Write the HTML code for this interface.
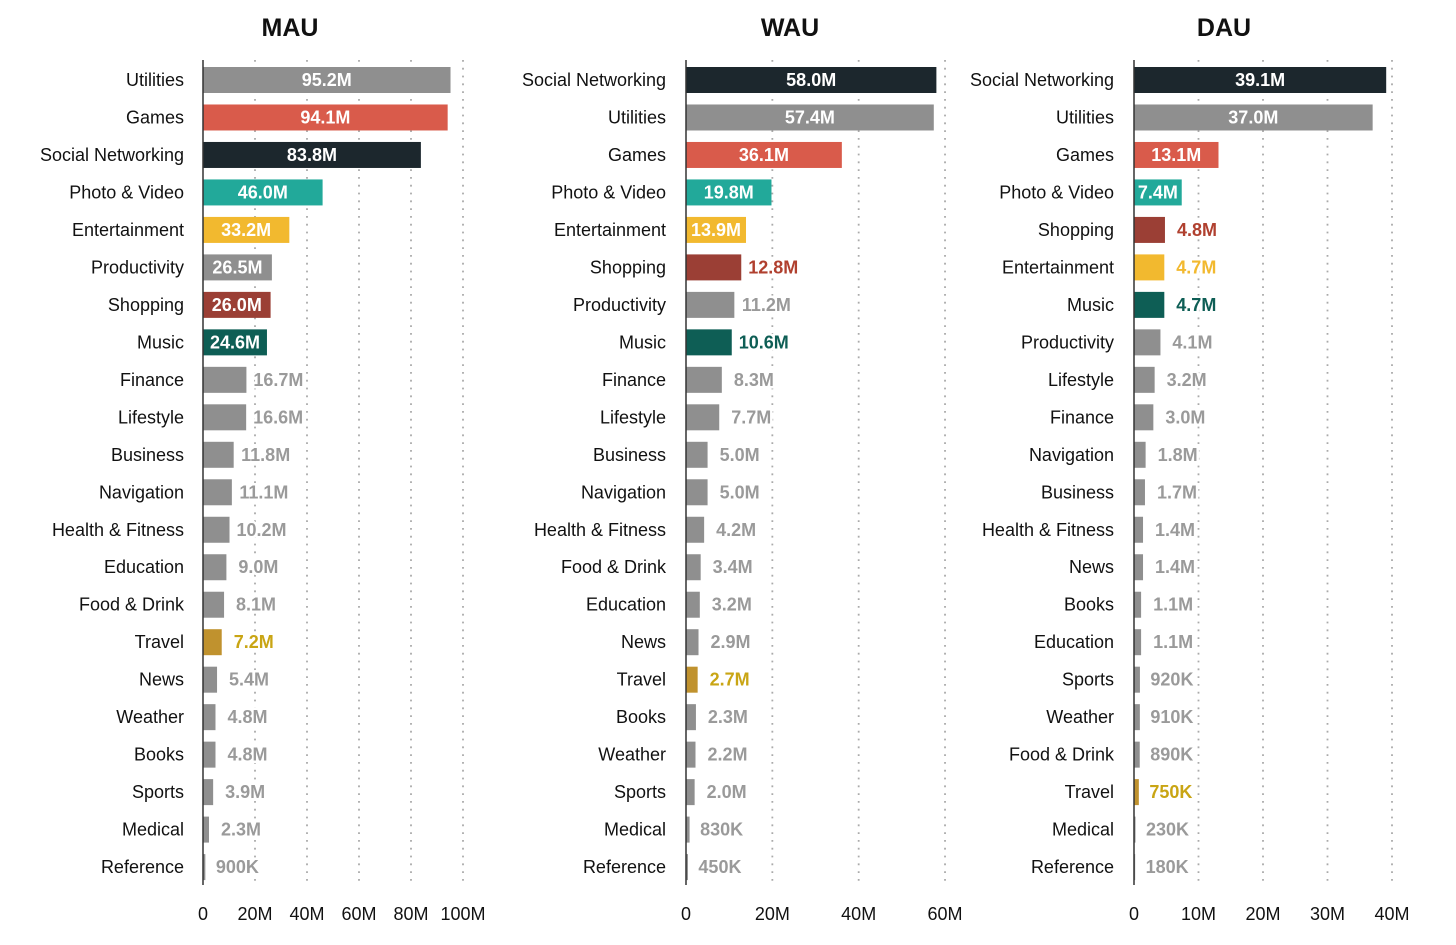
<!DOCTYPE html>
<html><head><meta charset="utf-8"><style>
html,body{margin:0;padding:0;background:#fff;}
svg{display:block;font-family:"Liberation Sans",sans-serif;}
.o{paint-order:stroke;stroke:#fff;stroke-width:5px;stroke-linejoin:round;}
</style></head><body>
<svg id="s" width="1456" height="945" xmlns="http://www.w3.org/2000/svg"></svg>
<script>
const C={g:'#8f8f8f',r:'#d95b4b',k:'#1c272d',t:'#22a99a',y:'#f2b92f',b:'#9b3f35',d:'#0e5e55',v:'#c0922e'};
const LC={g:'#9a9a9a',r:'#d95b4b',k:'#1c272d',t:'#22a99a',y:'#f2b92f',b:'#b0402f',d:'#0e5e55',v:'#c9a514'};
const panels=[
{title:'MAU',tx:290,x0:203,scale:2.6,labx:184,ticks:[[0,'0'],[20,'20M'],[40,'40M'],[60,'60M'],[80,'80M'],[100,'100M']],
rows:[['Utilities',95.2,'95.2M','g',1],['Games',94.1,'94.1M','r',1],['Social Networking',83.8,'83.8M','k',1],['Photo & Video',46.0,'46.0M','t',1],['Entertainment',33.2,'33.2M','y',1],['Productivity',26.5,'26.5M','g',1],['Shopping',26.0,'26.0M','b',1],['Music',24.6,'24.6M','d',1],['Finance',16.7,'16.7M','g'],['Lifestyle',16.6,'16.6M','g'],['Business',11.8,'11.8M','g'],['Navigation',11.1,'11.1M','g'],['Health & Fitness',10.2,'10.2M','g'],['Education',9.0,'9.0M','g'],['Food & Drink',8.1,'8.1M','g'],['Travel',7.2,'7.2M','v'],['News',5.4,'5.4M','g'],['Weather',4.8,'4.8M','g'],['Books',4.8,'4.8M','g'],['Sports',3.9,'3.9M','g'],['Medical',2.3,'2.3M','g'],['Reference',0.9,'900K','g']]},
{title:'WAU',tx:790,x0:686,scale:4.317,labx:666,ticks:[[0,'0'],[20,'20M'],[40,'40M'],[60,'60M']],
rows:[['Social Networking',58.0,'58.0M','k',1],['Utilities',57.4,'57.4M','g',1],['Games',36.1,'36.1M','r',1],['Photo & Video',19.8,'19.8M','t',1],['Entertainment',13.9,'13.9M','y',1],['Shopping',12.8,'12.8M','b'],['Productivity',11.2,'11.2M','g'],['Music',10.6,'10.6M','d'],['Finance',8.3,'8.3M','g'],['Lifestyle',7.7,'7.7M','g'],['Business',5.0,'5.0M','g'],['Navigation',5.0,'5.0M','g'],['Health & Fitness',4.2,'4.2M','g'],['Food & Drink',3.4,'3.4M','g'],['Education',3.2,'3.2M','g'],['News',2.9,'2.9M','g'],['Travel',2.7,'2.7M','v'],['Books',2.3,'2.3M','g'],['Weather',2.2,'2.2M','g'],['Sports',2.0,'2.0M','g'],['Medical',0.83,'830K','g'],['Reference',0.45,'450K','g']]},
{title:'DAU',tx:1224,x0:1134,scale:6.45,labx:1114,ticks:[[0,'0'],[10,'10M'],[20,'20M'],[30,'30M'],[40,'40M']],
rows:[['Social Networking',39.1,'39.1M','k',1],['Utilities',37.0,'37.0M','g',1],['Games',13.1,'13.1M','r',1],['Photo & Video',7.4,'7.4M','t',1],['Shopping',4.8,'4.8M','b'],['Entertainment',4.7,'4.7M','y'],['Music',4.7,'4.7M','d'],['Productivity',4.1,'4.1M','g'],['Lifestyle',3.2,'3.2M','g'],['Finance',3.0,'3.0M','g'],['Navigation',1.8,'1.8M','g'],['Business',1.7,'1.7M','g'],['Health & Fitness',1.4,'1.4M','g'],['News',1.4,'1.4M','g'],['Books',1.1,'1.1M','g'],['Education',1.1,'1.1M','g'],['Sports',0.92,'920K','g'],['Weather',0.91,'910K','g'],['Food & Drink',0.89,'890K','g'],['Travel',0.75,'750K','v'],['Medical',0.23,'230K','g'],['Reference',0.18,'180K','g']]}
];
let h='';
for(const p of panels){
 h+=`<text x="${p.tx}" y="36" text-anchor="middle" font-size="25" font-weight="bold" fill="#111">${p.title}</text>`;
 for(const [v,l] of p.ticks){const x=p.x0+v*p.scale;
  if(v>0)h+=`<line x1="${x}" y1="60" x2="${x}" y2="885" stroke="#aaa" stroke-width="1.8" stroke-dasharray="1.8,6"/>`;
  h+=`<text x="${x}" y="920" text-anchor="middle" font-size="18" fill="#111">${l}</text>`;}
 p.rows.forEach((r,i)=>{const cy=80+i*37.48;const w=r[1]*p.scale;const nm=r[0].replace('&','&amp;');
  h+=`<text x="${p.labx}" y="${cy+6}" text-anchor="end" font-size="18" fill="#111">${nm}</text>`;
  h+=`<rect x="${p.x0}" y="${cy-13}" width="${w}" height="26" fill="${C[r[3]]}"/>`;
  if(r[4])h+=`<text x="${p.x0+w/2}" y="${cy+6}" text-anchor="middle" font-size="18" font-weight="bold" fill="#fff">${r[2]}</text>`;
  else h+=`<text class="o" x="${p.x0+w+32}" y="${cy+6}" text-anchor="middle" font-size="18" font-weight="bold" fill="${LC[r[3]]}">${r[2]}</text>`;
 });
 h+=`<line x1="${p.x0}" y1="60" x2="${p.x0}" y2="885" stroke="#333" stroke-width="1.5"/>`;
}
document.getElementById('s').innerHTML=h;
</script>
</body></html>
